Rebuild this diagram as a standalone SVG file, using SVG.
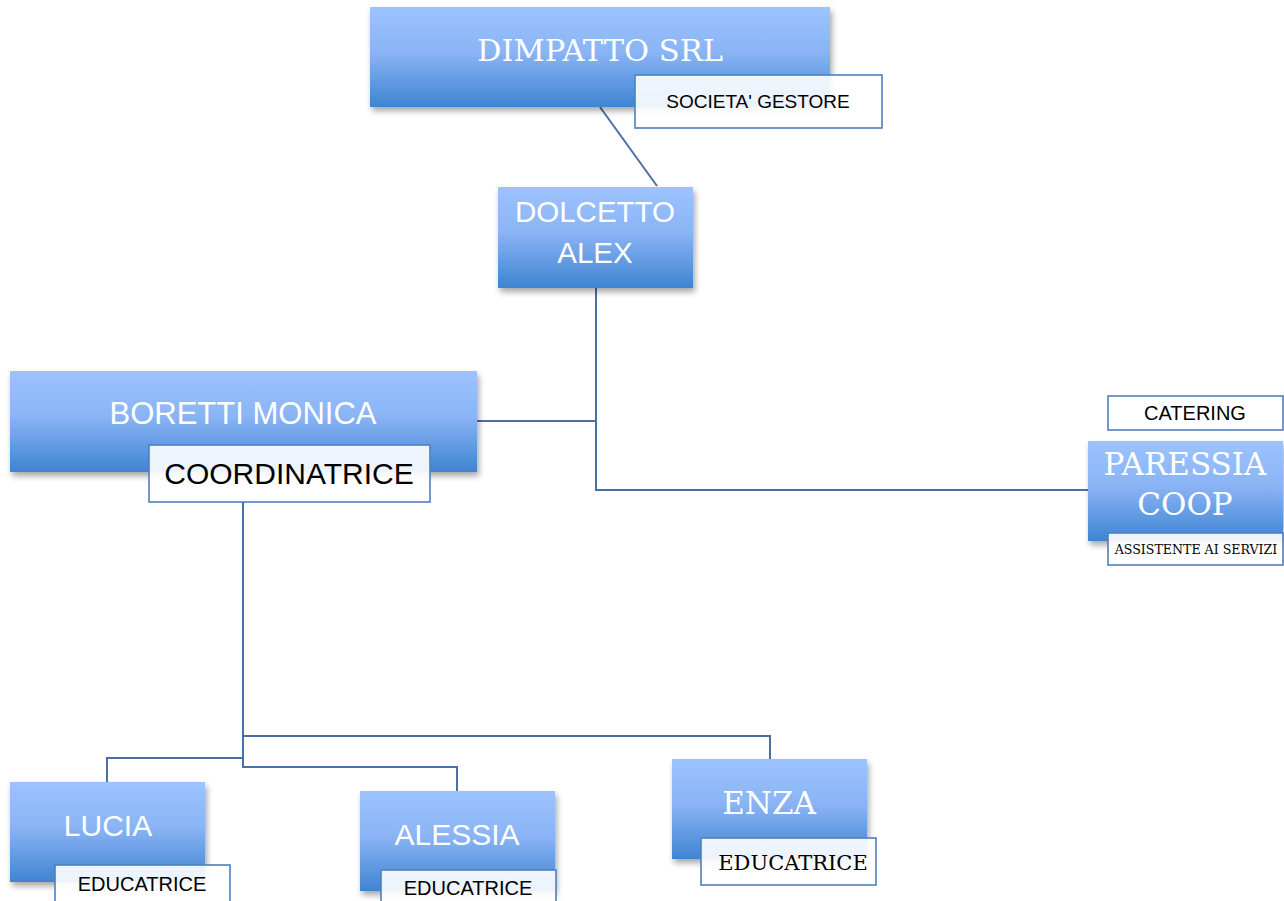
<svg xmlns="http://www.w3.org/2000/svg" width="1284" height="901" viewBox="0 0 1284 901">
<defs>
<linearGradient id="bg" x1="0" y1="0" x2="0" y2="1">
<stop offset="0" stop-color="#9dc3ff"/>
<stop offset="0.45" stop-color="#8ab4f5"/>
<stop offset="1" stop-color="#3f84d2"/>
</linearGradient>
<filter id="sh" x="-10%" y="-10%" width="125%" height="135%">
<feDropShadow dx="2" dy="4" stdDeviation="3" flood-color="#000" flood-opacity="0.35"/>
</filter>
</defs>
<style>
.box{fill:url(#bg);filter:url(#sh)}
.lbl{fill:#fff;fill-opacity:0.9;stroke:#4f7fbf;stroke-width:1.6}
.wt{fill:#fff;text-anchor:middle}
.sans{font-family:"Liberation Sans","Noto Sans",sans-serif}
.serif{font-family:"DejaVu Serif","Liberation Serif",serif}
.bk{fill:#000;text-anchor:middle}
.con{fill:none;stroke:#4a6fa5;stroke-width:2}
</style>
<rect width="1284" height="901" fill="#fff"/>
<g id="connectors">
<path class="con" d="M600 107 L657 186"/>
<path class="con" d="M596 288 V490 H1088"/>
<path class="con" d="M477 421 H596"/>
<path class="con" d="M243 502 V767 H457 V791"/>
<path class="con" d="M243 758 H107 V782"/>
<path class="con" d="M243 736 H770 V759"/>
</g>
<g id="dimpatto">
<rect class="box" x="370" y="7" width="460" height="100"/>
<text class="wt serif" x="600" y="61" font-size="30.5">DIMPATTO SRL</text>
<rect class="lbl" x="635" y="75" width="247" height="53"/>
<text class="bk sans" x="758" y="108" font-size="19">SOCIETA' GESTORE</text>
</g>
<g id="dolcetto">
<rect class="box" x="498" y="187" width="195" height="101"/>
<text class="wt sans" x="595" y="222" font-size="29.5">DOLCETTO</text>
<text class="wt sans" x="595" y="263" font-size="29.5">ALEX</text>
</g>
<g id="boretti">
<rect class="box" x="10" y="371" width="467" height="101"/>
<text class="wt sans" x="243" y="424" font-size="31">BORETTI MONICA</text>
<rect class="lbl" x="149" y="445" width="281" height="57"/>
<text class="bk sans" x="289" y="484" font-size="30">COORDINATRICE</text>
</g>
<g id="paressia">
<rect class="lbl" x="1108" y="396" width="175" height="34"/>
<text class="bk sans" x="1195" y="420" font-size="20">CATERING</text>
<rect class="box" x="1088" y="441" width="195" height="100"/>
<text class="wt serif" x="1185" y="475" font-size="31">PARESSIA</text>
<text class="wt serif" x="1185" y="515" font-size="31">COOP</text>
<rect class="lbl" x="1108" y="533" width="175" height="32"/>
<text class="bk serif" x="1196" y="554" font-size="12.6">ASSISTENTE AI SERVIZI</text>
</g>
<g id="lucia">
<rect class="box" x="10" y="782" width="195" height="100"/>
<text class="wt sans" x="108" y="836" font-size="30">LUCIA</text>
<rect class="lbl" x="55" y="865" width="175" height="40"/>
<text class="bk sans" x="142" y="891" font-size="20">EDUCATRICE</text>
</g>
<g id="alessia">
<rect class="box" x="360" y="791" width="195" height="100"/>
<text class="wt sans" x="457" y="845" font-size="30">ALESSIA</text>
<rect class="lbl" x="381" y="870" width="175" height="36"/>
<text class="bk sans" x="468" y="895" font-size="20">EDUCATRICE</text>
</g>
<g id="enza">
<rect class="box" x="672" y="759" width="195" height="100"/>
<text class="wt serif" x="769" y="814" font-size="31">ENZA</text>
<rect class="lbl" x="701" y="838" width="175" height="47"/>
<text class="bk serif" x="793" y="870" font-size="21">EDUCATRICE</text>
</g>
</svg>
